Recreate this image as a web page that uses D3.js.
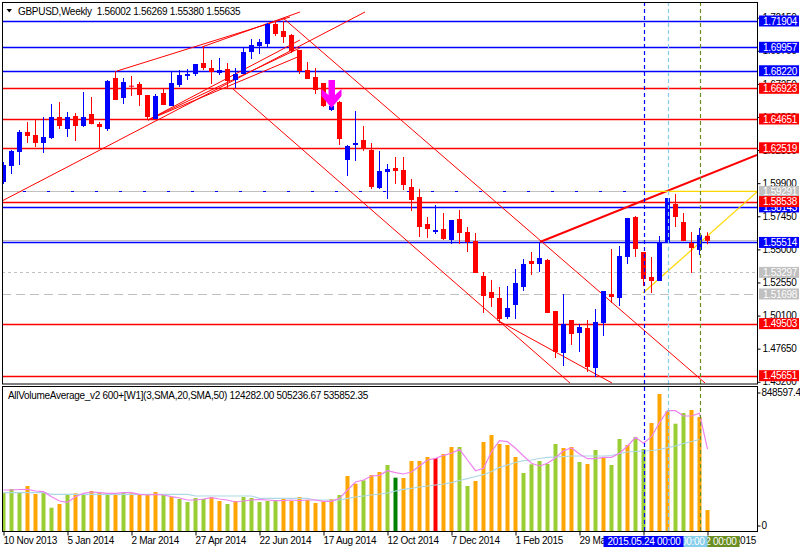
<!DOCTYPE html>
<html><head><meta charset="utf-8">
<script src="https://cdn.jsdelivr.net/npm/d3@7"></script>
<style>
body{margin:0;background:#fff}
svg{display:block}
text{font-family:"Liberation Sans",Arial,sans-serif;font-size:10px;letter-spacing:-0.3px}
</style></head><body>
<svg id="c" width="800" height="550"></svg>
<script>
// ---------- DATA ----------
const symbolTitle = "GBPUSD,Weekly  1.56002 1.56269 1.55380 1.55635";
const indTitle = "AllVolumeAverage_v2 600+[W1](3,SMA,20,SMA,50) 124282.00 505236.67 535852.35";
const firstWeek = Date.UTC(2013,10,10), endWeek = Date.UTC(2015,6,20);
const opens  = [1.59987,1.61171,1.62207,1.63688,1.63466,1.62874,1.63244,1.64798,1.63910,1.64872,
1.64132,1.65020,1.64280,1.63910,1.67685,1.66205,1.67115,1.67241,1.66427,1.64650,
1.66575,1.65612,1.67167,1.67833,1.67981,1.68795,1.68425,1.68055,1.68351,1.67537,
1.67981,1.69609,1.70054,1.70202,1.71682,1.71164,1.70868,1.69757,1.68277,1.67759,
1.67315,1.65316,1.65908,1.61615,1.62726,1.63096,1.62356,1.59543,1.60727,1.61023,
1.60875,1.59617,1.58877,1.56878,1.56286,1.56508,1.55694,1.57248,1.56286,1.55620,
1.53029,1.51845,1.51401,1.49994,1.50883,1.52215,1.54139,1.53917,1.54214,1.50439,
1.47330,1.49772,1.48810,1.49180,1.46219,1.49550,1.51697,1.51401,1.54436,1.57396,
1.54806,1.52955,1.52659,1.55472,1.58359,1.57026,1.55472,1.54954,1.56002];
const highs  = [1.61467,1.62356,1.63836,1.64428,1.64650,1.64798,1.65760,1.65908,1.65168,1.65094,
1.66649,1.66279,1.64428,1.67537,1.68203,1.67685,1.67833,1.67389,1.66427,1.66501,
1.66871,1.68203,1.68277,1.68351,1.68721,1.69980,1.69017,1.69165,1.68795,1.68425,
1.69980,1.70572,1.70572,1.71756,1.71830,1.71904,1.70942,1.69757,1.68869,1.68425,
1.67315,1.65760,1.65982,1.62726,1.65242,1.64132,1.62874,1.62282,1.61319,1.61838,
1.61838,1.60209,1.59469,1.57396,1.58284,1.57692,1.57174,1.57914,1.56656,1.56212,
1.53325,1.52733,1.52215,1.52289,1.53547,1.54288,1.54806,1.55546,1.54290,1.50439,
1.51697,1.49772,1.49476,1.49772,1.50587,1.51919,1.55028,1.55250,1.57322,1.57470,
1.54806,1.54436,1.55990,1.58803,1.59099,1.57692,1.56286,1.56582,1.56269];
const lows   = [1.59839,1.60579,1.61245,1.62874,1.62578,1.62134,1.63170,1.63910,1.63318,1.63022,
1.64058,1.64250,1.62504,1.63762,1.66057,1.65760,1.66353,1.65612,1.64576,1.64650,
1.65686,1.65612,1.67019,1.67537,1.67833,1.68277,1.67241,1.67907,1.66945,1.66945,
1.67981,1.69091,1.69461,1.69980,1.70794,1.70276,1.69535,1.67981,1.67611,1.66501,
1.65538,1.65242,1.62726,1.60431,1.61541,1.62282,1.59469,1.59469,1.58729,1.59839,
1.59395,1.57840,1.55916,1.55842,1.56138,1.55694,1.55398,1.55398,1.54806,1.53251,
1.50291,1.50735,1.49550,1.49846,1.49846,1.51919,1.53103,1.53325,1.50291,1.46960,
1.46367,1.47922,1.47404,1.45923,1.45553,1.48588,1.51031,1.50809,1.53917,1.54436,
1.52289,1.51771,1.52659,1.55472,1.56656,1.55620,1.53251,1.54584,1.55380];
const closes = [1.61245,1.62282,1.63688,1.63392,1.62874,1.63318,1.64798,1.64132,1.64798,1.64132,
1.64798,1.64280,1.64058,1.67463,1.66057,1.67389,1.67041,1.66427,1.64798,1.66353,
1.65686,1.67315,1.67907,1.67981,1.68721,1.68425,1.68129,1.68277,1.67463,1.67981,
1.69609,1.70128,1.70350,1.71682,1.70942,1.70720,1.69683,1.68203,1.67611,1.66797,
1.65612,1.65612,1.63170,1.62652,1.62874,1.62504,1.59617,1.60801,1.60949,1.60801,
1.59765,1.58655,1.56656,1.56508,1.56434,1.55768,1.57174,1.56212,1.55546,1.53251,
1.51549,1.51401,1.49846,1.50661,1.52511,1.53917,1.53917,1.54362,1.50291,1.47404,
1.49476,1.48736,1.49254,1.46293,1.49624,1.51919,1.51475,1.54510,1.57322,1.55028,
1.52807,1.52659,1.55472,1.58803,1.57396,1.55620,1.55102,1.56064,1.55635];
const volumes = [232800,255800,232800,274600,224600,232800,139200,162200,218400,229000,
222800,243400,232800,229000,224600,237100,229000,218400,218400,237100,
218400,205900,193400,174700,199700,193400,205900,181000,162200,181000,
205900,199700,174700,181000,181000,193400,181000,205900,187200,168500,
181000,193400,218400,337000,288900,310100,343200,361900,405600,326400,
324500,430600,430600,455500,449300,474200,517900,517900,274600,305800,
549100,592800,536600,530400,455500,355700,410000,430600,411800,536600,
511700,517900,424300,411800,499200,455500,405600,567800,530400,580300,
505400,667700,848597,742600,663300,730100,748800,705100,124282];
// volume bar kind: g = up, o = down, G = dark green, r = red
const volKind = "gggoogg" + "ogogoogogoooog" + "oggggoogogggggoooooo" + "ogoogoogGo" + "ooorooggooo" + "ooogggggoo" + "gogoggoggo" + "ooggooogo";
const smaFast = [249.6,249.6,252.7,254,243.4,239,207.8,181,172.8,207.8,
229,237.1,232.8,229,229,232.8,232.8,222.8,218.4,222.8,
218.4,207.8,199.7,187.2,187.2,193.4,201.6,193.4,187.2,174.7,
181,187.2,191.6,187.2,182.8,182.8,187.2,182.8,187.2,187.2,
179.1,179.1,197.8,249.6,299.5,312,337,341.3,370,357.6,
349.4,361.9,399.4,436.8,447.4,466.1,478.6,503.6,436.8,370,
385,488.6,557.2,551,509.8,461.8,416.2,399.4,416.2,451.2,
494.8,511.7,474.2,444.9,444.9,453.6,453.6,478.6,524.2,578.4,
541,582.2,669.6,744.4,744.4,711.4,711.4,728.2,505.2].map(v=>v*1000);
const smaSlow = [232.8,232.8,232.8,232.8,232.8,232.8,222.8,222.8,222.8,222.8,
222.8,222.8,222.8,222.8,222.8,222.8,222.8,222.8,222.8,222.8,
222.8,222.8,222.8,222.8,212.2,212.2,212.2,212.2,212.2,212.2,
212.2,212.2,197.8,197.8,197.8,197.8,197.8,197.8,197.8,187.2,
187.2,187.2,187.2,197.8,205.9,212.2,218.4,224.6,230.9,243.4,
254,260.2,268.3,274.6,280.8,287,295.2,308.9,320.1,333.8,
345.1,365,391.2,405.6,421.2,432.4,436.8,446.2,453.6,455.5,
457.4,461.8,461.8,461.8,461.8,461.8,464.9,477.4,486.7,489.8,
493,496.1,502.3,513.6,524.2,539.8,552.2,564.7].map(v=>v*1000);
const priceTicks = [1.45200,1.47650,1.50100,1.52550,1.55000,1.57450,1.59900,1.62350,1.64800,1.67250,1.69700,1.72150];
const volTicks = [0, 848597.4];
// horizontal levels
const hLevels = [1.71904,1.69957,1.68220,1.66923,1.64651,1.62519,1.58538,1.58143,1.55514,1.49503,1.45651];
const hColors = ["#0000ff","#0000ff","#0000ff","#ff0000","#ff0000","#ff0000","#ff0000","#0000ff","#0000ff","#ff0000","#ff0000"];
const grayLevels = [1.59291,1.55671,1.53297,1.51698];
const grayDash = ["", "", "3,3", "9,5"];
const grayLabeled = [true,false,true,true];
// trend lines [barIndex1, price1, barIndex2, price2]
const redLines = [
 [-0.19,1.5858,45.19,1.7257],
 [34.94,1.7213,87.69,1.4511],
 [28.56,1.6694,70.81,1.4511],
 [61.69,1.4977,76.06,1.4511],
 [14.19,1.68203,35.81,1.72200],
 [24.81,1.69980,37.06,1.72570],
 [18.06,1.64576,37.06,1.70498],
 [18.06,1.64576,37.06,1.69906],
 [18.06,1.64576,37.06,1.69313]
];
const thickLine = [67.06,1.55546,94.19,1.61985];
const yellowLines = [[79.94,1.51771,94.19,1.59247],[79.94,1.59291,94.19,1.59291]];
const vLines = [80,83,87];
const vColors = ["#0000ff","#87ceeb","#6b8e23"];
const vLabels = ["2015.05.24 00:00","2015.06.14 00:00","2015.07.12 00:00"];
const arrowBar = 41, arrowPrice = 1.6754;

// ---------- LAYOUT ----------
const svg = d3.select("#c");
const L = 2, R = 757, mainTop = 2, mainBot = 383.5, indTop = 386, indBot = 531;
const weeks = d3.utcWeek.range(new Date(firstWeek), new Date(endWeek));
const x = d3.scaleUtc().domain([weeks[0], weeks[weeks.length-1]]).range([3.5, 3.5 + 8*(weeks.length-1)]);
const xi = i => x(weeks[0]) + (x(weeks[1]) - x(weeks[0])) * i;
const y = d3.scaleLinear().domain([1.45200, 1.71904]).range([381.77, 21]);
const yv = d3.scaleLinear().domain([0, 848597.4]).range([530, 394]);

svg.append("defs").append("clipPath").attr("id","mc").append("rect")
  .attr("x",L).attr("y",mainTop).attr("width",R-L).attr("height",mainBot-mainTop);
svg.select("defs").append("clipPath").attr("id","ic").append("rect")
  .attr("x",L).attr("y",indTop).attr("width",R-L).attr("height",indBot-indTop);

const main = svg.append("g").attr("clip-path","url(#mc)");
const ind = svg.append("g").attr("clip-path","url(#ic)");

// gray levels
grayLevels.forEach((p,k)=>{
  main.append("line").attr("x1",L).attr("x2",R).attr("y1",Math.round(y(p))+0.5).attr("y2",Math.round(y(p))+0.5)
    .attr("stroke","#c0c0c0").attr("stroke-width",1).attr("stroke-dasharray",grayDash[k]||null);
});
// blue dashes on top gray level
main.append("line").attr("x1",23).attr("x2",xi(vLines[0])).attr("y1",Math.round(y(grayLevels[0]))+0.5).attr("y2",Math.round(y(grayLevels[0]))+0.5)
  .attr("stroke","#0000ff").attr("stroke-dasharray","3,21");
// horizontal levels
hLevels.forEach((p,k)=>{
  main.append("line").attr("x1",L).attr("x2",R).attr("y1",Math.round(y(p))+0.5).attr("y2",Math.round(y(p))+0.5)
    .attr("stroke",hColors[k]).attr("stroke-width",1.3);
});
// vertical dashed lines
vLines.forEach((b,k)=>{
  const xx = Math.round(xi(b))+0.5;
  svg.append("line").attr("x1",xx).attr("x2",xx).attr("y1",mainTop).attr("y2",indBot)
    .attr("stroke",vColors[k]).attr("stroke-dasharray","4,3").attr("stroke-width",1.2);
});
// trend lines
const seg = (g,l,col,w)=> g.append("line").attr("x1",xi(l[0])).attr("y1",y(l[1])).attr("x2",xi(l[2])).attr("y2",y(l[3]))
   .attr("stroke",col).attr("stroke-width",w);
redLines.forEach(l=>seg(main,l,"#ff0000",1));
seg(main,thickLine,"#ff0000",2);
yellowLines.forEach(l=>seg(main,l,"#ffd700",1.2));

// candles
const cg = main.append("g");
opens.forEach((o,i)=>{
  const c = closes[i], col = c>=o ? "#0000ff" : "#ff0000";
  const cx = xi(i);
  cg.append("line").attr("x1",cx).attr("x2",cx).attr("y1",y(highs[i])).attr("y2",y(lows[i])).attr("stroke",col).attr("stroke-width",1);
  const top = y(Math.max(o,c)), bot = y(Math.min(o,c));
  cg.append("rect").attr("x",cx-2.5).attr("y",top).attr("width",5).attr("height",Math.max(1,bot-top)).attr("fill",col);
});

// magenta arrow
{
  const ax = xi(arrowBar), ay = y(arrowPrice);
  const pts = [[-3,0],[3.5,0],[3.5,15],[10,9],[10,16],[0,28],[-10,16],[-10,9],[-3,15]];
  main.append("polygon").attr("points",pts.map(p=>[ax+p[0],ay+p[1]].join(",")).join(" ")).attr("fill","#ff00ff");
}

// volume bars
const kindCol = {g:"#9acd32",o:"#ffa500",G:"#008000",r:"#ff0000"};
volumes.forEach((v,i)=>{
  ind.append("rect").attr("x",xi(i)-2).attr("y",yv(v)).attr("width",4).attr("height",yv(0)-yv(v)+1)
    .attr("fill",kindCol[volKind[i]]);
});
const lineGen = d3.line().x((d,i)=>xi(i)).y(d=>yv(d));
ind.append("path").attr("d",lineGen(smaSlow)).attr("fill","none").attr("stroke","#add8e6").attr("stroke-width",1.2);
ind.append("path").attr("d",lineGen(smaFast)).attr("fill","none").attr("stroke","#ee82ee").attr("stroke-width",1.2);

// frames
svg.append("rect").attr("x",L+0.5).attr("y",mainTop+0.5).attr("width",R-L).attr("height",mainBot-mainTop).attr("fill","none").attr("stroke","#000");
svg.append("rect").attr("x",L+0.5).attr("y",indTop+0.5).attr("width",R-L).attr("height",indBot-indTop).attr("fill","none").attr("stroke","#000");

// price axis
const pa = svg.append("g").attr("transform",`translate(${R+0.5},0)`)
  .call(d3.axisRight(y).tickValues(priceTicks).tickFormat(d3.format(".5f")).tickSize(3).tickPadding(2));
pa.select(".domain").remove();
pa.selectAll("text").attr("font-size",10).attr("fill","#000").attr("font-family","Liberation Sans, Arial, sans-serif");
// level labels
const lab = (p,col)=>{
  const yy = y(p);
  svg.append("rect").attr("x",759).attr("y",yy-5.5).attr("width",40).attr("height",11).attr("fill",col);
  svg.append("text").attr("x",763).attr("y",yy+3.8).attr("fill","#fff").text(d3.format(".5f")(p));
};
lab(hLevels[7],hColors[7]);
grayLevels.forEach((p,k)=>{ if(grayLabeled[k]) lab(p,"#c0c0c0"); });
hLevels.forEach((p,k)=>{ if(k!==7) lab(p,hColors[k]); });

// volume axis
const va = svg.append("g").attr("transform",`translate(${R+0.5},0)`)
  .call(d3.axisRight(yv).tickValues(volTicks).tickFormat(d=>d===0?"0":d3.format(".1f")(d)).tickSize(3).tickPadding(1));
va.select(".domain").remove();
va.selectAll("text").attr("font-size",9.5).attr("letter-spacing","-0.4px").attr("font-family","Liberation Sans, Arial, sans-serif");
va.selectAll(".tick").filter(d=>d===0).attr("transform",`translate(0,${yv(0)-4})`);
va.selectAll(".tick").filter(d=>d>0).attr("transform",`translate(0,${yv(848597.4)-1})`);

// time axis
const ta = svg.append("g").attr("transform",`translate(0,${indBot+0.5})`)
  .call(d3.axisBottom(x).tickValues(weeks.filter((d,i)=>i%8===0)).tickFormat(d3.utcFormat("%-d %b %Y")).tickSize(4).tickPadding(1));
ta.select(".domain").remove();
ta.selectAll("text").attr("text-anchor","start").attr("dx",-0.5).attr("font-size",10).attr("font-family","Liberation Sans, Arial, sans-serif");
// vertical line time labels (olive, light blue, blue order)
[2,1,0].forEach(k=>{
  const xx = xi(vLines[k]);
  svg.append("rect").attr("x",xx-40).attr("y",536).attr("width",80).attr("height",11).attr("fill",vColors[k]);
  svg.append("text").attr("x",xx-36).attr("y",545).attr("fill","#fff").text(vLabels[k]);
});

// titles
svg.append("polygon").attr("points","6.5,9 12,9 9.25,12.5").attr("fill","#000");
svg.append("text").attr("x",18).attr("y",14.5).attr("fill","#000").text(symbolTitle).attr("xml:space","preserve");
svg.append("text").attr("x",8).attr("y",399).attr("fill","#000").text(indTitle);
</script></body></html>
